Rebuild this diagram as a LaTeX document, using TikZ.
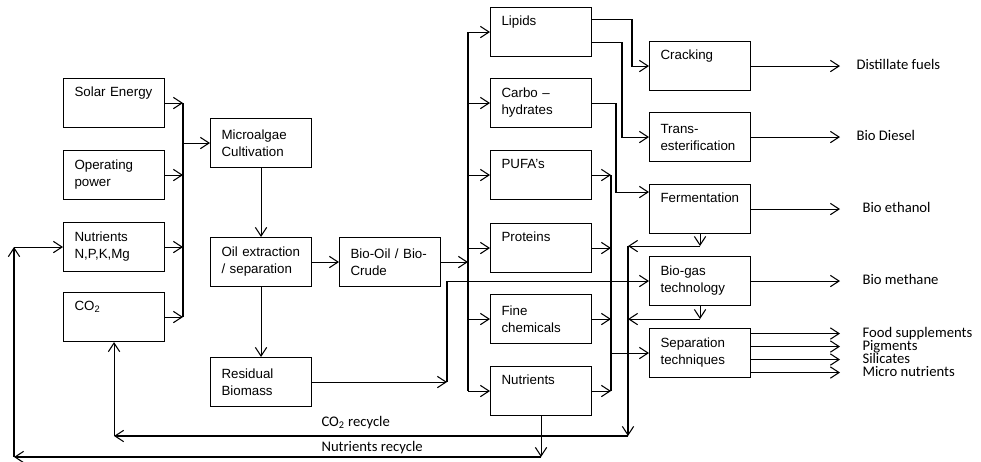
\documentclass[tikz,border=0pt]{standalone}
\usepackage{fontspec}
\setmainfont{Liberation Sans}
\newfontfamily\calfont{Carlito}
\usetikzlibrary{arrows.meta,calc}
\tikzset{
  box/.style={draw, anchor=north west, minimum width=75.75pt, minimum height=36.75pt,
    text width=59.25pt, inner xsep=8.25pt, inner ysep=0pt, align=left,
    font=\fontsize{10}{12.75}\selectfont},
  outtext/.style={anchor=west, inner sep=0pt, text height=1.6ex, text depth=0.4ex,
    font=\calfont\fontsize{11}{13}\selectfont}
}
\begin{document}
\begin{tikzpicture}[x=0.75pt, y=-0.75pt, line width=0.8pt, >={Straight Barb[length=6.5pt,width=8.5pt]}]
\useasboundingbox (0,0) rectangle (981,461);
\node[box] (solar) at (63,78) {Solar Energy\\\strut};
\node[box] (power) at (63,150) {Operating\\power};
\node[box] (nutin) at (63,222) {Nutrients\\N,P,K,Mg};
\node[box] (co2) at (63,292) {CO\textsubscript{2}\\\strut};
\node[box] (algae) at (210,118) {Microalgae\\Cultivation};
\node[box] (oil) at (210,237) {Oil extraction\\/ separation};
\node[box] (resid) at (210,357) {Residual\\Biomass};
\node[box] (biooil) at (339,237) {Bio-Oil / Bio-\\Crude};
\node[box] (lipids) at (490,7) {Lipids\\\strut};
\node[box] (carbo) at (490,78) {Carbo --\\hydrates};
\node[box] (pufa) at (490,150) {PUFA's\\\strut};
\node[box] (prot) at (490,223) {Proteins\\\strut};
\node[box] (fine) at (490,294) {Fine\\chemicals};
\node[box] (nutr) at (490,366) {Nutrients\\\strut};
\node[box] (crack) at (649,41) {Cracking\\\strut};
\node[box] (trans) at (649,112) {Trans-\\esterification};
\node[box] (ferm) at (649,184) {Fermentation\\\strut};
\node[box] (biogas) at (649,256) {Bio-gas\\technology};
\node[box] (sep) at (649,328) {Separation\\techniques};
\coordinate (inbus) at (183,0);
\coordinate (prodbus) at (468,0);
\coordinate (gasx) at (447,0);
\coordinate (rbus) at (611,0);
\coordinate (recbot) at (628,436);
\coordinate (nrleft) at (14,457);
\coordinate (outend) at (840,0);
\foreach \n in {solar,power,nutin,co2} \draw[->] (\n) -- (\n -| inbus);
\draw (solar -| inbus) -- (co2 -| inbus);
\draw[->] (inbus |- algae) -- (algae);
\draw[->] (algae) -- (oil);
\draw[->] (oil) -- (resid);
\draw[->] (oil) -- (biooil);
\draw[->] (biooil) -- (biooil -| prodbus);
\draw (lipids -| prodbus) -- (nutr -| prodbus);
\foreach \n in {lipids,carbo,pufa,prot,fine,nutr} \draw[->] (\n -| prodbus) -- (\n);
\draw[->] (resid) -- (resid -| gasx);
\draw[->] (resid -| gasx) |- (biogas);
\draw[->] ($(lipids.east)+(0,-13)$) -| ($(crack.west)+(-17,0)$) -- (crack.west);
\draw[->] ($(lipids.east)+(0,10)$) -| ($(trans.west)+(-27,0)$) -- (trans.west);
\draw[->] (carbo.east) -| ($(ferm.west)+(-33,-17)$) -- ($(ferm.west)+(0,-17)$);
\foreach \n in {pufa,prot,fine,nutr} \draw[->] (\n) -- (\n -| rbus);
\draw (pufa -| rbus) -- (nutr -| rbus);
\draw[->] (sep -| rbus) -- (sep);
\draw[->] (ferm.south) -- ++(0,12) coordinate (fermdrop);
\draw[->] (fermdrop) -- (fermdrop -| recbot);
\draw[->] (biogas.south) -- ++(0,13) coordinate (gasdrop);
\draw[->] (gasdrop) -- (gasdrop -| recbot);
\draw[->] (fermdrop -| recbot) -- (recbot);
\draw[->] (recbot) -- (recbot -| co2.south);
\draw[->] (recbot -| co2.south) -- (co2.south);
\draw[->] (nutr.south) -- (nutr.south |- nrleft);
\draw[->] (nutr.south |- nrleft) -- (nrleft);
\draw[->] (nrleft) -- (nrleft |- nutin.west);
\draw[->] (nrleft |- nutin.west) -- (nutin.west);
\foreach \n in {crack,trans,ferm,biogas} \draw[->] (\n) -- (\n -| outend);
\node[outtext] (fuels) at (856,65.5) {Distillate fuels};
\node[outtext] (diesel) at (856,136.5) {Bio Diesel};
\node[outtext] (ethanol) at (862,208.5) {Bio ethanol};
\node[outtext] (methane) at (862,280.5) {Bio methane};
\foreach \dy/\n/\txt in {-19.5/food/Food supplements,-6.5/pigm/Pigments,6.5/silic/Silicates,19.5/micro/Micro nutrients} {
  \draw[->] ($(sep.east)+(0,\dy)$) -- ($(sep.east -| outend)+(0,\dy)$);
  \node[outtext] (\n) at ($(sep.east -| outend)+(22,\dy)$) {\txt};
}
\node[outtext] (co2lab) at (321,422) {CO\textsubscript{2} recycle};
\node[outtext] (nrlab) at (321,447) {Nutrients recycle};
\end{tikzpicture}
\end{document}
